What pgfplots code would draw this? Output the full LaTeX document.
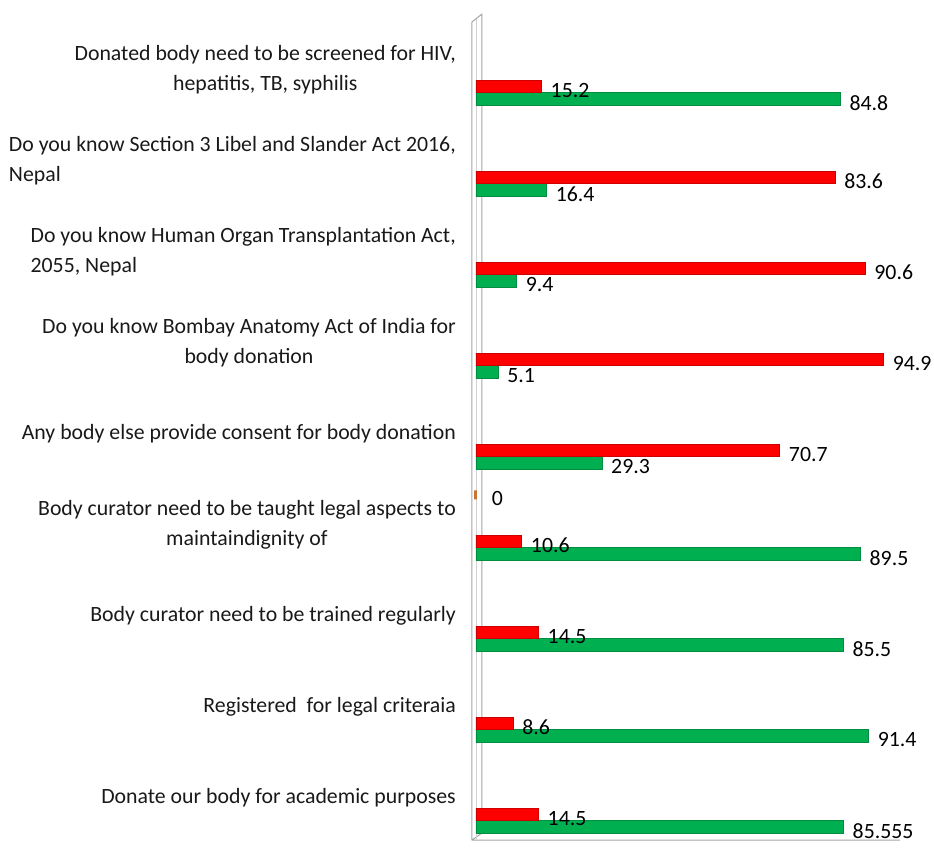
\documentclass[border=0pt]{standalone}
\usepackage{fontspec}
\setmainfont{Carlito}
\usepackage{pgfplots}
\pgfplotsset{compat=1.18}
\definecolor{barred}{RGB}{255,0,0}
\definecolor{bargreen}{RGB}{0,176,80}
\definecolor{barbrown}{RGB}{196,116,52}
\definecolor{wallgray}{RGB}{165,165,165}
\begin{document}
\fontsize{21.8}{30}\selectfont
\begin{tikzpicture}
\begin{axis}[
  scale only axis, width=425pt, height=825pt,
  xmin=0, xmax=99, ymin=-0.214, ymax=8.854,
  axis line style={draw=none}, xtick=\empty,
  ytick={0.25,1.25,2.25,3.25,4.25,5.25,6.25,7.25,8.25},
  yticklabels={
    {Donate our body for academic purposes},
    {Registered\ \ for legal criteraia},
    {Body curator need to be trained regularly},
    {Body curator need to be taught legal aspects to\\maintaindignity of},
    {Any body else provide consent for body donation},
    {Do you know Bombay Anatomy Act of India for\\body donation},
    {\begin{tabular}{@{}l@{}}Do you know Human Organ Transplantation Act,\\2055, Nepal\end{tabular}},
    {\begin{tabular}{@{}l@{}}Do you know Section 3 Libel and Slander Act 2016,\\Nepal\end{tabular}},
    {Donated body need to be screened for HIV,\\hepatitis, TB, syphilis}
  },
  major tick length=0pt,
  yticklabel style={font=\fontsize{21.8}{30}\selectfont, align=center, inner sep=0pt, xshift=-20pt, text=black!90},
  xbar, bar width=12.5pt,
  point meta=explicit symbolic,
  nodes near coords,
  nodes near coords style={font=\fontsize{21.8}{30}\selectfont, anchor=west, xshift=2pt, yshift=-4pt, text=black},
  clip=false,
]
\coordinate (O) at (rel axis cs:0,0);
\draw[wallgray, line width=1pt, line join=round]
  ([shift={(424pt,0pt)}]rel axis cs:0,0) -- ([shift={(-4pt,0pt)}]rel axis cs:0,0) -- ([shift={(-4pt,818pt)}]rel axis cs:0,0)
  -- ([shift={(6pt,826pt)}]rel axis cs:0,0) -- ([shift={(6pt,7pt)}]rel axis cs:0,0) -- ([shift={(-4pt,0pt)}]rel axis cs:0,0);
\draw[wallgray!50, line width=0.8pt] ([shift={(0pt,0pt)}]rel axis cs:0,0) -- ([shift={(0pt,821pt)}]rel axis cs:0,0);
\addplot[fill=bargreen, draw=bargreen!80!black, bar shift=-6.25pt] coordinates {
  (85.555,0)[85.555] (91.4,1)[91.4] (85.5,2)[85.5] (89.5,3)[89.5] (29.3,4)[29.3]
  (5.1,5)[5.1] (9.4,6)[9.4] (16.4,7)[16.4] (84.8,8)[84.8]};
\addplot[fill=barred, draw=barred!80!black, bar shift=6.25pt] coordinates {
  (14.5,0)[14.5] (8.6,1)[8.6] (14.5,2)[14.5] (10.6,3)[10.6] (70.7,4)[70.7]
  (94.9,5)[94.9] (90.6,6)[90.6] (83.6,7)[83.6] (15.2,8)[15.2]};
\addplot[fill=barbrown, draw=barbrown, line width=3pt, bar width=9pt, bar shift=52.6pt,
  nodes near coords style={xshift=5pt}] coordinates {(0,3)[0]};
\end{axis}
\pgfresetboundingbox
\path ([shift={(-476pt,-23pt)}]O) rectangle ([shift={(458pt,840pt)}]O);
\end{tikzpicture}
\end{document}
